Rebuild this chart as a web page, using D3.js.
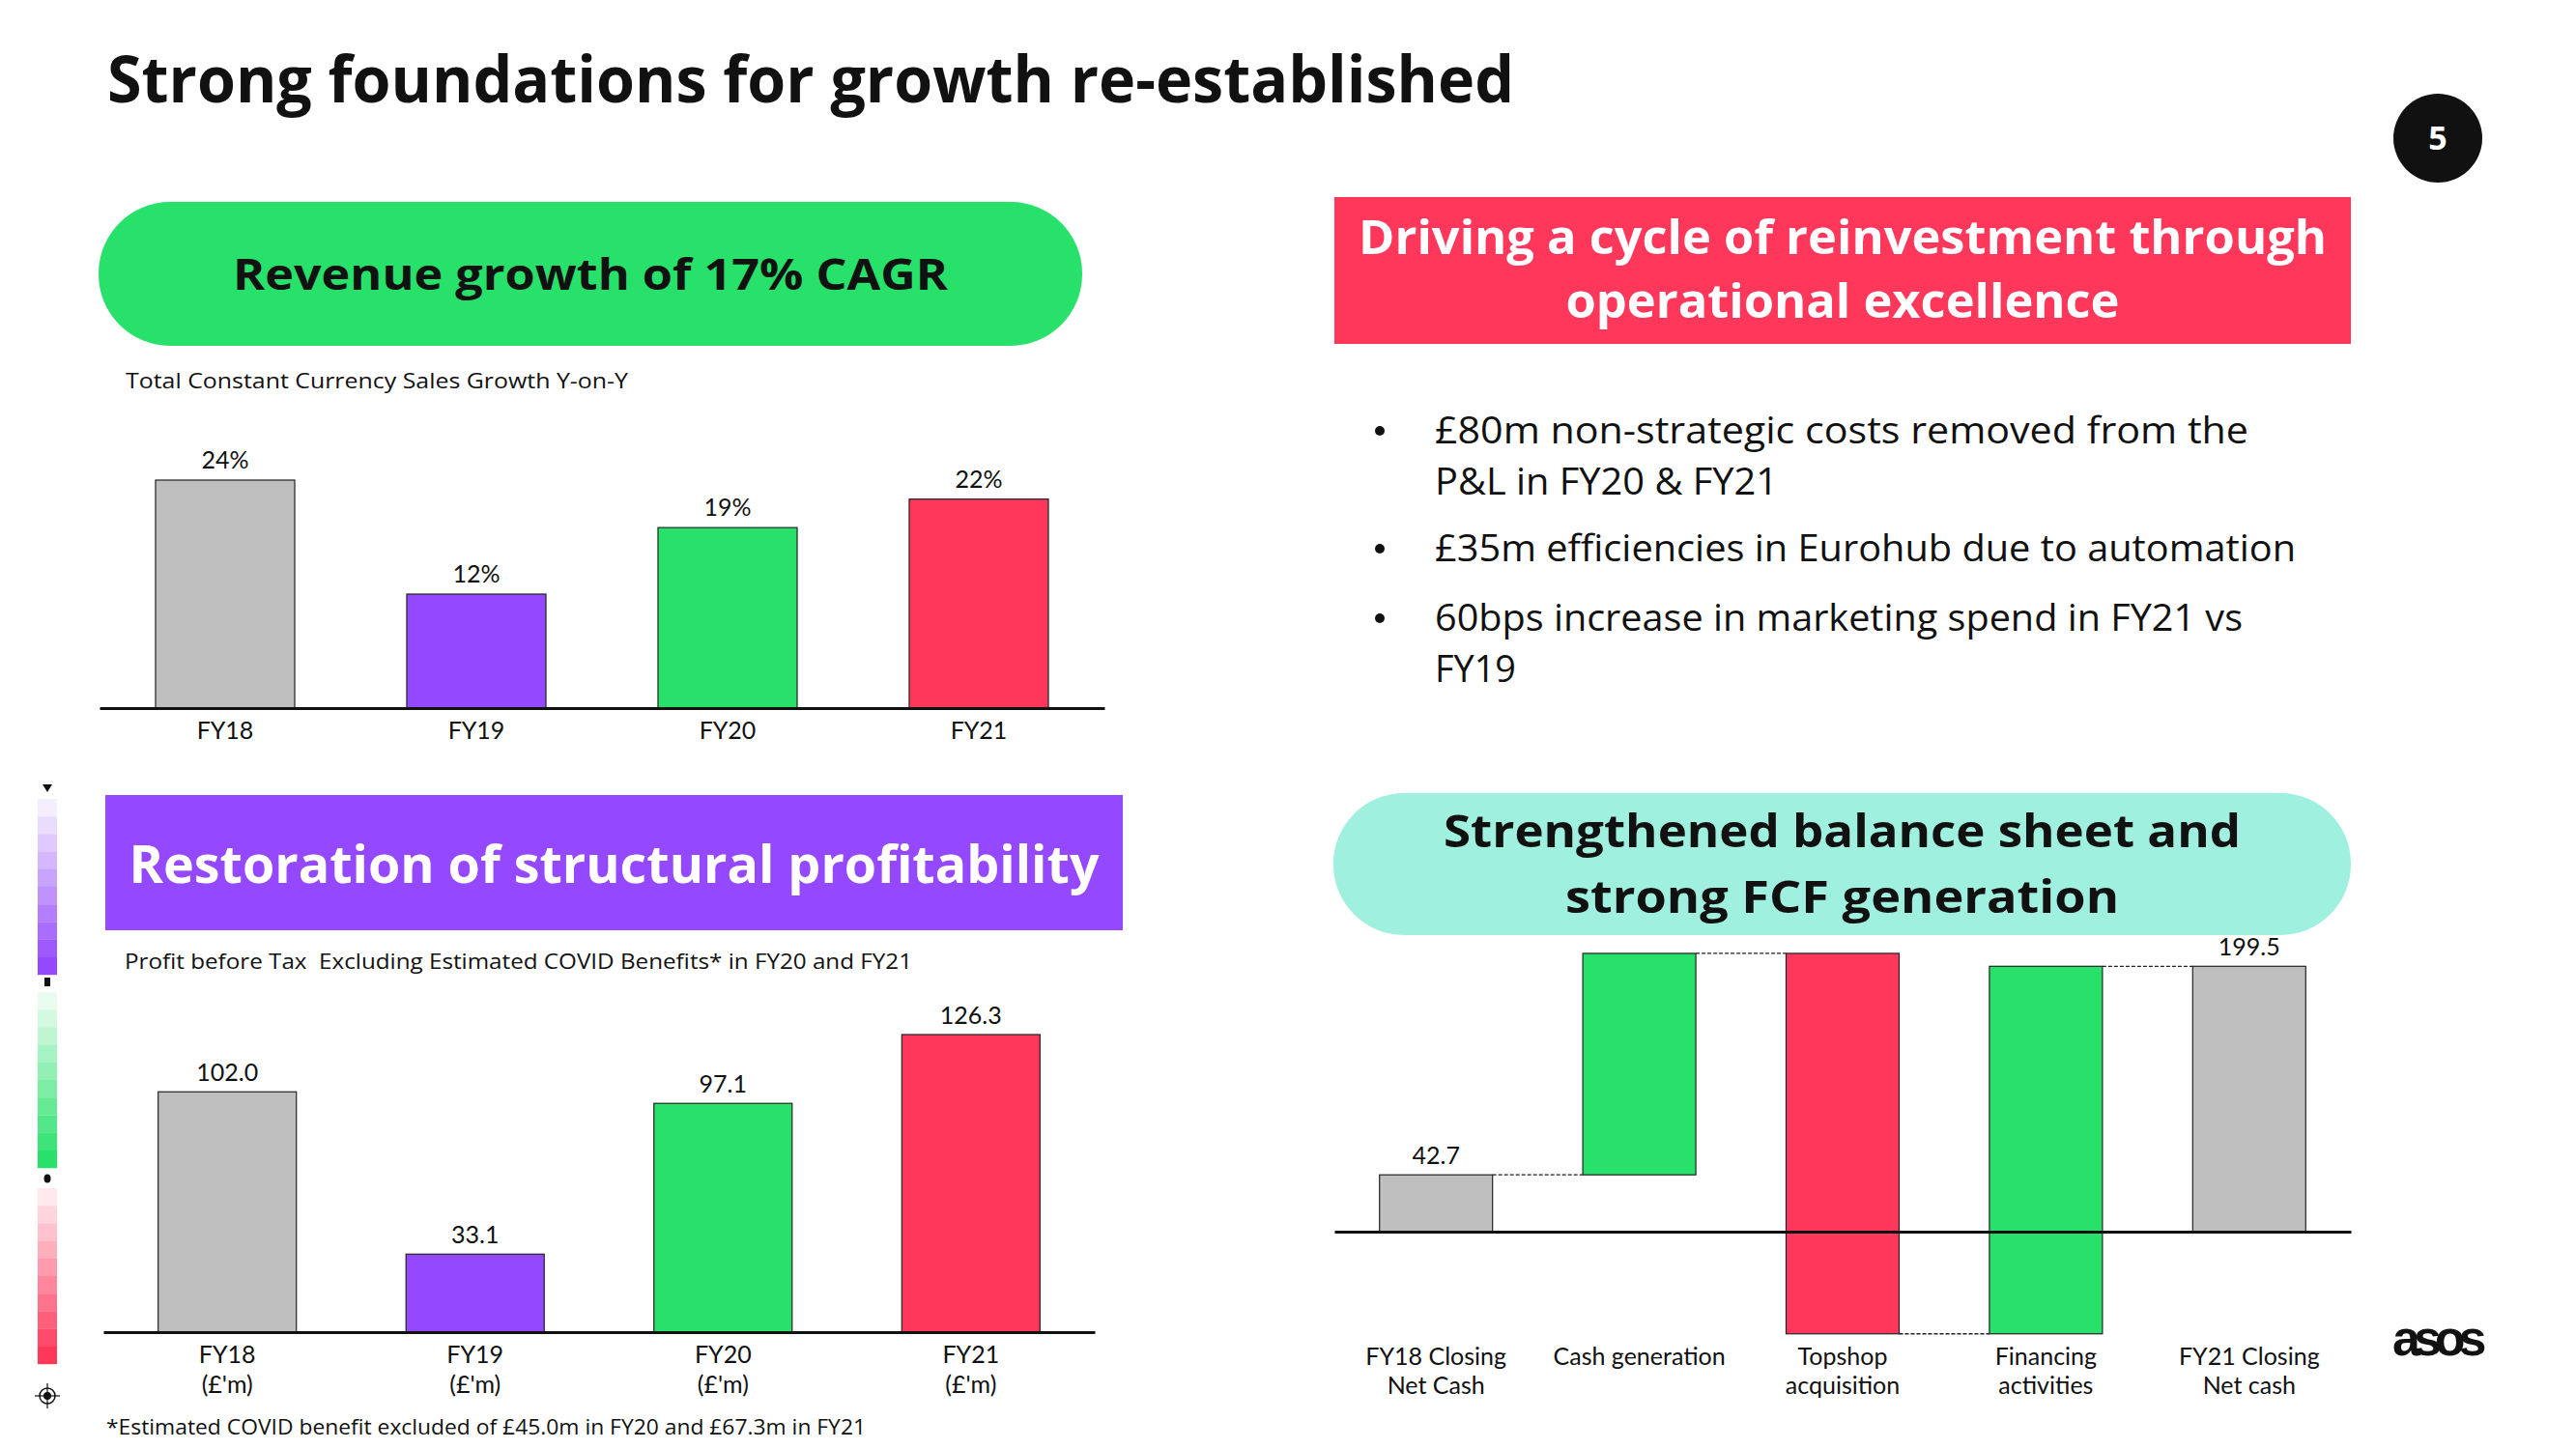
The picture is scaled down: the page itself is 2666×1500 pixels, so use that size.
<!DOCTYPE html>
<html>
<head>
<meta charset="utf-8">
<script src="https://cdn.jsdelivr.net/npm/d3@7"></script>
<style>
  html, body { margin: 0; padding: 0; background: #fff; }
  svg { display: block; }
  text { font-family: Lato, "Noto Sans", sans-serif; fill: #111; }
  .os { font-family: "Open Sans", "Noto Sans", sans-serif; }
</style>
</head>
<body>
<script>
// ---------- DATA ----------
const revCategories = ["FY18", "FY19", "FY20", "FY21"];
const revValues = [24, 12, 19, 22];
const revLabels = ["24%", "12%", "19%", "22%"];

const pbtCategories = ["FY18", "FY19", "FY20", "FY21"];
const pbtUnit = "(£'m)";
const pbtValues = [102.0, 33.1, 97.1, 126.3];
const pbtLabels = ["102.0", "33.1", "97.1", "126.3"];

const wfCategories = ["FY18 Closing|Net Cash", "Cash generation", "Topshop|acquisition", "Financing|activities", "FY21 Closing|Net cash"];
const wfValues = [42.7, 166.5, -286.0, 276.3, 199.5];
const wfTypes = ["total", "delta", "delta", "delta", "total"];
const wfLabels = ["42.7", "", "", "", "199.5"];

const bullets = [
  ["£80m non-strategic costs removed from the", "P&L in FY20 & FY21"],
  ["£35m efficiencies in Eurohub due to automation"],
  ["60bps increase in marketing spend in FY21 vs", "FY19"]
];

// ---------- STYLE ----------
const C = { grey: "#bfbfbf", purple: "#9448ff", green: "#27e16a", red: "#ff375b", teal: "#9ff0df", ink: "#111" };
const barColors = [C.grey, C.purple, C.green, C.red];
const wfColors = [C.grey, C.green, C.red, C.green, C.grey];

const W = 2666, H = 1500;
const svg = d3.select("body").append("svg").attr("width", W).attr("height", H);
svg.append("rect").attr("width", W).attr("height", H).attr("fill", "#fff");

// text with fitted width
function ftext(x, y, str, size, weight, len, anchor, color) {
  const t = svg.append("text").attr("class", "os").attr("x", x).attr("y", y)
    .style("font-size", size + "px").style("font-weight", weight)
    .attr("text-anchor", anchor || "start").text(str);
  if (color) t.style("fill", color);
  if (len) t.attr("textLength", len).attr("lengthAdjust", "spacingAndGlyphs");
  return t;
}

// Title
ftext(111, 106, "Strong foundations for growth re-established", 66, 700, 1456);

// Page number
svg.append("circle").attr("cx", 2523).attr("cy", 143).attr("r", 46).attr("fill", C.ink);
svg.append("text").attr("class", "os").attr("x", 2523).attr("y", 155).attr("text-anchor", "middle")
  .style("font-size", "34px").style("font-weight", 700).style("fill", "#fff").text("5");

// ---------- Panel headers ----------
function header(x, y, w, h, r, fill, lines, color, size, baselines, lens) {
  svg.append("rect").attr("x", x).attr("y", y).attr("width", w).attr("height", h)
    .attr("rx", r).attr("ry", r).attr("fill", fill);
  lines.forEach((t, i) => ftext(x + w / 2, baselines[i], t, size, 700, lens[i], "middle", color));
}
header(102, 209, 1018, 149, 74, C.green, ["Revenue growth of 17% CAGR"], C.ink, 45, [300], [740]);
header(109, 823, 1053, 140, 0, C.purple, ["Restoration of structural profitability"], "#fff", 53, [914], [1004]);
header(1381, 204, 1052, 152, 0, C.red, ["Driving a cycle of reinvestment through", "operational excellence"], "#fff", 49, [263, 329], [1002, 573]);
header(1380, 821, 1053, 147, 73, C.teal, ["Strengthened balance sheet and", "strong FCF generation"], C.ink, 46, [877, 945], [825, 573]);

// subtitles
ftext(130, 402, "Total Constant Currency Sales Growth Y-on-Y", 22.5, 400, 520);
ftext(129, 1003, "Profit before Tax  Excluding Estimated COVID Benefits* in FY20 and FY21", 22.5, 400, 815)
  .attr("xml:space", "preserve");
ftext(110, 1485, "*Estimated COVID benefit excluded of £45.0m in FY20 and £67.3m in FY21", 22.5, 400, 786);

// ---------- helper for axis ----------
function drawAxis(g, x, y0, firstY, lineGap) {
  const ax = g.append("g").attr("transform", `translate(0,${y0})`)
    .call(d3.axisBottom(x).tickSize(0).tickPadding(0));
  ax.select(".domain").attr("stroke", C.ink).attr("stroke-width", 3);
  ax.selectAll(".tick text").each(function (d) {
    const t = d3.select(this);
    const parts = String(d).split("|");
    t.text(null).attr("y", 0).attr("dy", null)
      .style("font-family", "Lato, 'Noto Sans', sans-serif").style("font-size", "25px").attr("fill", C.ink);
    parts.forEach((p, i) => t.append("tspan").attr("x", 0).attr("y", firstY + i * lineGap).text(p));
  });
  return ax;
}

// ---------- Chart 1: revenue growth ----------
{
  const g = svg.append("g");
  const x = d3.scaleBand().domain(revCategories).range([103, 1143]).paddingInner(0.446).paddingOuter(0.223);
  const y = d3.scaleLinear().domain([0, 24]).range([733, 497]);
  g.selectAll("rect.bar").data(revValues).join("rect").attr("class", "bar")
    .attr("x", (d, i) => x(revCategories[i])).attr("width", x.bandwidth())
    .attr("y", d => y(d)).attr("height", d => y(0) - y(d))
    .attr("fill", (d, i) => barColors[i]).attr("stroke", "#222").attr("stroke-width", 1.2);
  g.selectAll("text.val").data(revValues).join("text").attr("class", "val")
    .attr("x", (d, i) => x(revCategories[i]) + x.bandwidth() / 2).attr("y", d => y(d) - 12)
    .attr("text-anchor", "middle").style("font-size", "25px").text((d, i) => revLabels[i]);
  drawAxis(g, x, 733, 32, 31);
}

// ---------- Chart 2: PBT ----------
{
  const g = svg.append("g");
  const cats = pbtCategories.map(c => c + "|" + pbtUnit);
  const x = d3.scaleBand().domain(cats).range([107, 1133]).paddingInner(0.4425).paddingOuter(0.221);
  const y = d3.scaleLinear().domain([0, 126.3]).range([1379, 1071]);
  g.selectAll("rect.bar").data(pbtValues).join("rect").attr("class", "bar")
    .attr("x", (d, i) => x(cats[i])).attr("width", x.bandwidth())
    .attr("y", d => y(d)).attr("height", d => y(0) - y(d))
    .attr("fill", (d, i) => barColors[i]).attr("stroke", "#222").attr("stroke-width", 1.2);
  g.selectAll("text.val").data(pbtValues).join("text").attr("class", "val")
    .attr("x", (d, i) => x(cats[i]) + x.bandwidth() / 2).attr("y", d => y(d) - 11)
    .attr("text-anchor", "middle").style("font-size", "25px").text((d, i) => pbtLabels[i]);
  drawAxis(g, x, 1379, 32, 31);
}

// ---------- Bullets ----------
{
  const yb = [459, 581, 653];
  const lens = [[842, 355], [891], [836, 84]];
  bullets.forEach((lines, i) => {
    svg.append("circle").attr("cx", 1428).attr("cy", yb[i] - 13).attr("r", 5).attr("fill", C.ink);
    lines.forEach((l, j) => ftext(1485, yb[i] + j * 53, l, 38, 400, lens[i][j]));
  });
}

// ---------- Waterfall ----------
{
  const g = svg.append("g");
  const x = d3.scaleBand().domain(wfCategories).range([1381, 2433]).paddingInner(0.444).paddingOuter(0.222);
  const y = d3.scaleLinear().domain([0, 199.5]).range([1275, 1000.3]);
  let run = 0;
  const segs = wfValues.map((v, i) => {
    let a, b;
    if (wfTypes[i] === "total") { a = 0; b = v; run = v; }
    else { a = run; b = run + v; run = b; }
    return { cat: wfCategories[i], a, b, end: run };
  });
  g.selectAll("rect.bar").data(segs).join("rect").attr("class", "bar")
    .attr("x", d => x(d.cat)).attr("width", x.bandwidth())
    .attr("y", d => y(Math.max(d.a, d.b))).attr("height", d => Math.abs(y(d.a) - y(d.b)))
    .attr("fill", (d, i) => wfColors[i]).attr("stroke", "#222").attr("stroke-width", 1.2);
  for (let i = 0; i < segs.length - 1; i++) {
    const yy = y(segs[i].end);
    g.append("line").attr("x1", x(segs[i].cat) + x.bandwidth()).attr("x2", x(segs[i + 1].cat))
      .attr("y1", yy).attr("y2", yy).attr("stroke", "#222").attr("stroke-width", 1.3)
      .attr("stroke-dasharray", "4,2");
  }
  g.selectAll("text.val").data(segs).join("text").attr("class", "val")
    .attr("x", d => x(d.cat) + x.bandwidth() / 2).attr("y", d => y(Math.max(d.a, d.b)) - 11)
    .attr("text-anchor", "middle").style("font-size", "25px").text((d, i) => wfLabels[i]);
  drawAxis(g, x, 1275, 138, 30);
}

// ---------- Left side decoration ----------
{
  const strips = [
    { y0: 827, from: "#f4eeff", to: C.purple },
    { y0: 1027, from: "#e8fcef", to: C.green },
    { y0: 1230, from: "#ffe9ed", to: C.red }
  ];
  strips.forEach(s => {
    const ip = d3.interpolateRgb(s.from, s.to);
    d3.range(10).forEach(k => {
      svg.append("rect").attr("x", 39).attr("y", s.y0 + k * 18.2).attr("width", 20).attr("height", 18.4)
        .attr("fill", ip(k / 9));
    });
  });
  svg.append("path").attr("d", "M44,812 L54,812 L49,820 Z").attr("fill", C.ink);
  svg.append("rect").attr("x", 46).attr("y", 1012).attr("width", 6).attr("height", 9).attr("fill", C.ink);
  svg.append("ellipse").attr("cx", 49).attr("cy", 1220).attr("rx", 3.5).attr("ry", 4.5).attr("fill", C.ink);
  const cr = svg.append("g").attr("transform", "translate(49,1445)");
  cr.append("circle").attr("r", 8).attr("fill", "none").attr("stroke", C.ink).attr("stroke-width", 1.5);
  cr.append("circle").attr("r", 4).attr("fill", C.ink);
  cr.append("line").attr("x1", -13).attr("x2", 13).attr("stroke", C.ink).attr("stroke-width", 1.2);
  cr.append("line").attr("y1", -13).attr("y2", 13).attr("stroke", C.ink).attr("stroke-width", 1.2);
}

// ---------- Logo ----------
svg.append("text").attr("x", 2476).attr("y", 1403)
  .style("font-family", "'Liberation Sans', Arial, sans-serif").style("font-size", "52px")
  .style("font-weight", 700).style("letter-spacing", "-7px").text("asos");
</script>
</body>
</html>
